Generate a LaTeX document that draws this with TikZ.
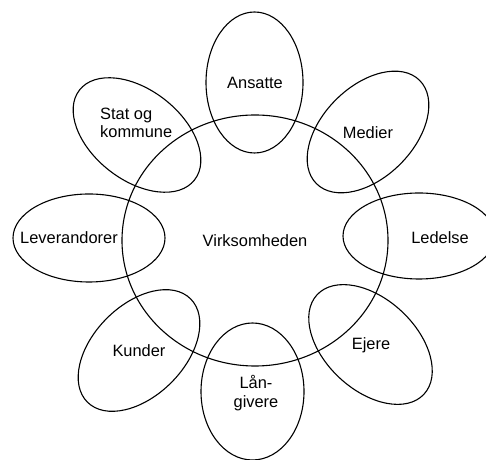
\documentclass[tikz,border=0pt]{standalone}
\usepackage{fontspec}
\setmainfont{Liberation Sans}
\usetikzlibrary{shapes.geometric}
\begin{document}
\begin{tikzpicture}[x=1bp,y=1bp,
  outline/.style={draw=black, line width=1.1bp, ellipse, inner sep=0pt, outer sep=0pt},
  lbl/.style={font=\fontsize{16.4bp}{18.5bp}\selectfont, inner sep=0pt, align=center}]
\useasboundingbox (0,0) rectangle (486,460);
\begin{scope}
\clip (0,0) rectangle (486,460);
% central circle
\node[outline, minimum width=266bp, minimum height=251bp] (core) at (255,219.5) {};
% petals
\node[outline, minimum width=97bp, minimum height=141bp] (pAns) at (254.5,377.5) {};
\node[outline, minimum width=146bp, minimum height=91bp, rotate=45] (pMed) at (368,328) {};
\node[outline, minimum width=152bp, minimum height=86bp] (pLed) at (419,224) {};
\node[outline, minimum width=146bp, minimum height=91bp, rotate=-43] (pEje) at (370.5,115.5) {};
\node[outline, minimum width=103bp, minimum height=137bp] (pLaan) at (252.5,68.5) {};
\node[outline, minimum width=146bp, minimum height=91bp, rotate=45] (pKun) at (139,109.5) {};
\node[outline, minimum width=152bp, minimum height=88bp] (pLev) at (89,222) {};
\node[outline, minimum width=146bp, minimum height=90bp, rotate=-38] (pSta) at (137,325) {};
\end{scope}
% labels
\node[lbl] (tCore) at (255,219) {Virksomheden};
\node[lbl] (tAns) at (255,377) {Ansatte};
\node[lbl] (tMed) at (368,327) {Medier};
\node[lbl] (tLed) at (440,222) {Ledelse};
\node[lbl] (tEje) at (371,115) {Ejere};
\node[lbl] (tLaan) at (256,67) {Lån-\\givere};
\node[lbl] (tKun) at (139,109) {Kunder};
\node[lbl] (tLev) at (69,222) {Leverandorer};
\node[lbl, align=left, anchor=west] (tSta) at (100,337) {Stat og\\kommune};
\end{tikzpicture}
\end{document}
